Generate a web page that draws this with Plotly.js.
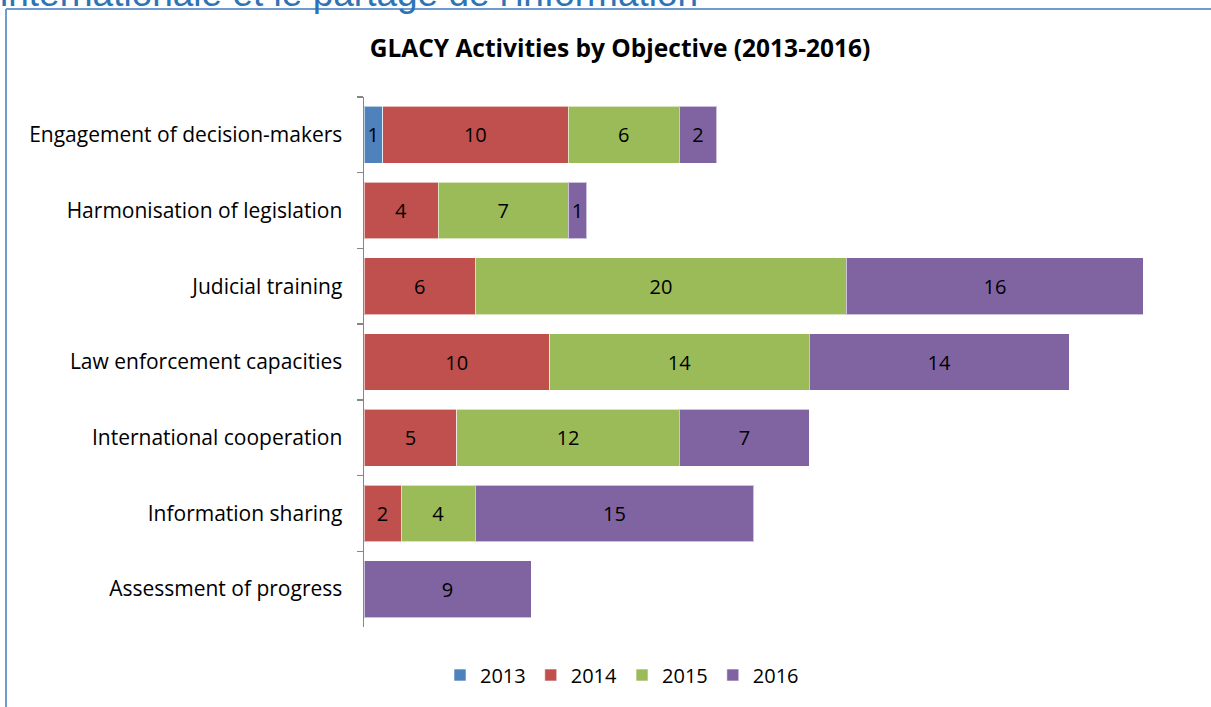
<!DOCTYPE html>
<html>
<head>
<meta charset="utf-8">
<script src="https://cdn.plot.ly/plotly-3.0.1.min.js"></script>
<style>html,body{margin:0;padding:0;background:#fff;}#chart{width:1211px;height:707px;}</style>
</head>
<body>
<div id="chart"></div>
<script>
var categories = ["Engagement of decision-makers","Harmonisation of legislation","Judicial training","Law enforcement capacities","International cooperation","Information sharing","Assessment of progress"];
var years = ["2013","2014","2015","2016"];
var v2013 = [1, null, null, null, null, null, null];
var v2014 = [10, 4, 6, 10, 5, 2, null];
var v2015 = [6, 7, 20, 14, 12, 4, null];
var v2016 = [2, 1, 16, 14, 7, 15, 9];
var colors = ["#4F81BD","#C0504D","#9BBB59","#8064A2"];
var series = [v2013, v2014, v2015, v2016];

var FONT = "Open Sans, Liberation Sans, Arial, sans-serif";
var traces = series.map(function(vals, i){
  return {
    type: "bar", orientation: "h", name: years[i],
    y: categories, x: vals,
    marker: {color: colors[i], line: {color: "rgba(255,255,255,0.6)", width: 1}},
    text: vals.map(function(v){return v==null?"":String(v);}),
    textposition: "inside", insidetextanchor: "middle", constraintext: "none",
    textfont: {color: "#000", size: 20, family: FONT},
    hoverinfo: "x+name"
  };
});

var L = 364, R = 1199, T = 97, B = 627;
var W = R - L, H = B - T;
function px(x){return (x - L)/W;}
function py(y){return (B - y)/H;}

var layout = {
  width: 1211, height: 707,
  margin: {l: L, r: 1211 - R, t: T, b: 707 - B},
  barmode: "stack", bargap: 0.25,
  paper_bgcolor: "#fff", plot_bgcolor: "#fff",
  showlegend: true,
  title: {text: "<b>GLACY Activities by Objective (2013-2016)</b>", font: {family: FONT, size: 24.5, color: "#000"}, x: 620/1211, xanchor: "center", y: 1 - 48/707, yanchor: "middle"},
  xaxis: {range: [0, 45], visible: false, fixedrange: true},
  yaxis: {autorange: "reversed", type: "category", showline: true, linecolor: "#868686", linewidth: 1.5,
          ticks: "outside", tickson: "boundaries", ticklen: 6, tickcolor: "#868686", tickwidth: 1.5,
          tickfont: {family: FONT, size: 21, color: "#000"}, ticklabelstandoff: 16, showgrid: false, zeroline: false},
  legend: {orientation: "h", x: px(622), xanchor: "center", y: py(675), yanchor: "middle",
           font: {family: FONT, size: 20, color: "#000"}, itemwidth: 30, traceorder: "normal"},
  annotations: [{
    text: "internationale et le partage de l'information", xref: "paper", yref: "paper",
    x: px(-2), y: py(16), xanchor: "left", yanchor: "bottom", showarrow: false,
    font: {family: "Liberation Sans, Arial, sans-serif", size: 37, color: "#2E74B5"}
  }],
  shapes: [
    {type: "line", xref: "paper", yref: "paper", x0: px(6), x1: px(1211), y0: py(9), y1: py(9), line: {color: "#6F9BD1", width: 2}},
    {type: "line", xref: "paper", yref: "paper", x0: px(6), x1: px(6), y0: py(9), y1: py(707), line: {color: "#6F9BD1", width: 2}}
  ]
};
Plotly.newPlot("chart", traces, layout, {displayModeBar: false, staticPlot: true});
</script>
</body>
</html>
